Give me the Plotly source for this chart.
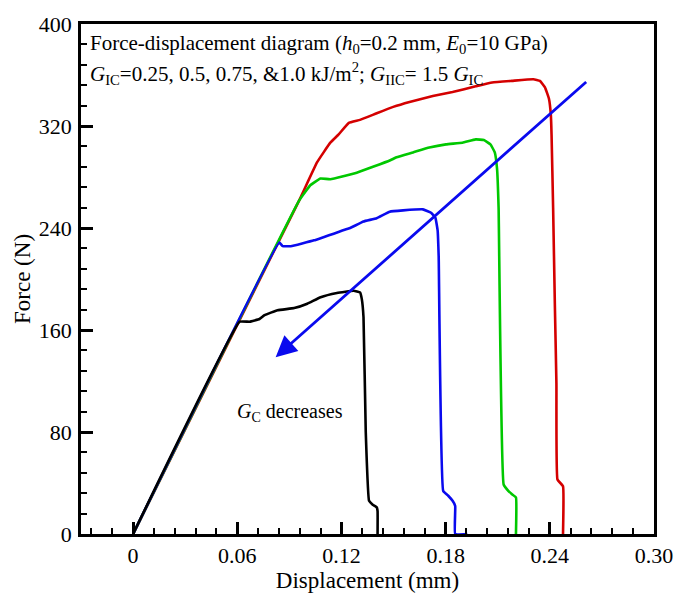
import plotly.graph_objects as go

# ---- data ----
red_x = [0, 0.0956, 0.1060, 0.1136, 0.1184, 0.1241, 0.1307, 0.1403, 0.1498, 0.1592, 0.1726, 0.1840,
         0.1973, 0.2068, 0.2182, 0.2305, 0.2343, 0.2372, 0.2395, 0.2406, 0.2410, 0.2419, 0.2429,
         0.2438, 0.2444, 0.2476, 0.2476]
red_y = [0, 261.5, 291.6, 306.9, 313.4, 322.3, 324.8, 330.0, 335.0, 338.9, 343.5, 346.6,
         351.1, 354.1, 355.4, 356.7, 355.4, 350.3, 341.4, 328.6, 313.4, 255.9, 180.0,
         118.0, 42.7, 37.5, 0]

green_x = [0, 0.0956, 0.1022, 0.1079, 0.1136, 0.1288, 0.1478, 0.1517, 0.1612, 0.1706, 0.1802,
           0.1897, 0.1973, 0.2020, 0.2058, 0.2083, 0.2096, 0.2105, 0.2134, 0.2162, 0.2182,
           0.2205, 0.2205]
green_y = [0, 261.5, 273.7, 278.8, 278.3, 283.4, 292.9, 295.5, 299.3, 303.1, 305.6,
           306.9, 309.5, 309.0, 305.6, 299.3, 286.5, 255.9, 38.8, 33.7, 31.2,
           28.6, 0]

blue_x = [0, 0.0842, 0.0861, 0.0908, 0.1042, 0.1231, 0.1250, 0.1327, 0.1403, 0.1478, 0.1555,
          0.1669, 0.1716, 0.1741, 0.1754, 0.1760, 0.1786, 0.1815, 0.1840, 0.1855, 0.1855, 0.1925]
blue_y = [0, 228.5, 225.8, 225.7, 230.3, 239.2, 240.0, 245.1, 247.7, 252.8, 253.8,
          254.6, 252.0, 248.0, 238.0, 217.5, 33.7, 30.0, 26.0, 22.0, 0, 0]

black_x = [0, 0.0614, 0.0671, 0.0728, 0.0757, 0.0832, 0.0928, 0.1003, 0.1080, 0.1174, 0.1270,
           0.1307, 0.1317, 0.1327, 0.1340, 0.1359, 0.1380, 0.1403, 0.1408, 0.1408]
black_y = [0, 166.5, 166.5, 168.6, 171.6, 175.5, 177.2, 180.6, 185.7, 189.0, 190.8,
           189.5, 184.4, 170.0, 80.0, 26.0, 23.0, 20.9, 18.0, 0]

arrow_tail = (0.2618, 355.6)
arrow_head = (0.0821, 138.7)

x_ticks = [0, 0.06, 0.12, 0.18, 0.24, 0.30]
x_tick_text = ["0", "0.06", "0.12", "0.18", "0.24", "0.30"]
y_ticks = [0, 80, 160, 240, 320, 400]

FONT = "Liberation Serif"

fig = go.Figure()
series = [(red_x, red_y, "#d40000"), (green_x, green_y, "#00c800"),
          (blue_x, blue_y, "#0a0aee"), (black_x, black_y, "#000000")]
for xs, ys, c in series:
    fig.add_trace(go.Scatter(x=xs, y=ys, mode="lines",
                             line=dict(color=c, width=2.6, shape="spline", smoothing=0.3),
                             showlegend=False, hoverinfo="skip"))

fig.add_annotation(x=arrow_head[0], y=arrow_head[1], ax=arrow_tail[0], ay=arrow_tail[1],
                   xref="x", yref="y", axref="x", ayref="y", text="", showarrow=True,
                   arrowhead=2, arrowsize=1.5, arrowwidth=2.8, arrowcolor="#0a0aee")

fig.add_annotation(x=-0.0262, y=384, xref="x", yref="y", xanchor="left", yanchor="middle",
                   showarrow=False,
                   text="Force-displacement diagram (<i>h</i><sub>0</sub>=0.2 mm, <i>E</i><sub>0</sub>=10 GPa)",
                   font=dict(family=FONT, size=21, color="black"))
fig.add_annotation(x=-0.0262, y=361, xref="x", yref="y", xanchor="left", yanchor="middle",
                   showarrow=False,
                   text="<i>G</i><sub>IC</sub>=0.25, 0.5, 0.75, &amp;1.0 kJ/m<sup>2</sup>; <i>G</i><sub>IIC</sub>= 1.5 <i>G</i><sub>IC</sub>",
                   font=dict(family=FONT, size=21, color="black"))
fig.add_annotation(x=0.0587, y=95, xref="x", yref="y", xanchor="left", yanchor="middle",
                   showarrow=False, text="<i>G</i><sub>C</sub> decreases",
                   font=dict(family=FONT, size=20, color="black"))

fig.update_layout(
    width=685, height=600, margin=dict(l=81, r=25, t=12, b=66),
    paper_bgcolor="white", plot_bgcolor="white",
    font=dict(family=FONT, color="black"),
    xaxis=dict(range=[-0.03, 0.30], tickmode="array", tickvals=x_ticks, ticktext=x_tick_text,
               ticks="inside", ticklen=12, tickwidth=2.5, tickcolor="black",
               showline=True, linewidth=2.8, linecolor="black", mirror=True,
               showgrid=False, zeroline=False,
               tickfont=dict(family=FONT, size=22),
               title=dict(text="Displacement (mm)", font=dict(family=FONT, size=23), standoff=2),
               minor=dict(dtick=0.012, tick0=0, ticks="inside", ticklen=6, tickwidth=1.5,
                          tickcolor="black", showgrid=False)),
    yaxis=dict(range=[0, 400], tickmode="array", tickvals=y_ticks,
               ticks="inside", ticklen=12, tickwidth=2.5, tickcolor="black",
               showline=True, linewidth=2.8, linecolor="black", mirror=True,
               showgrid=False, zeroline=False, ticklabelstandoff=2,
               tickfont=dict(family=FONT, size=22),
               title=dict(text="Force (N)", font=dict(family=FONT, size=23), standoff=2),
               minor=dict(dtick=16, tick0=0, ticks="inside", ticklen=6, tickwidth=1.5,
                          tickcolor="black", showgrid=False)),
)

fig.write_html("out.html")
